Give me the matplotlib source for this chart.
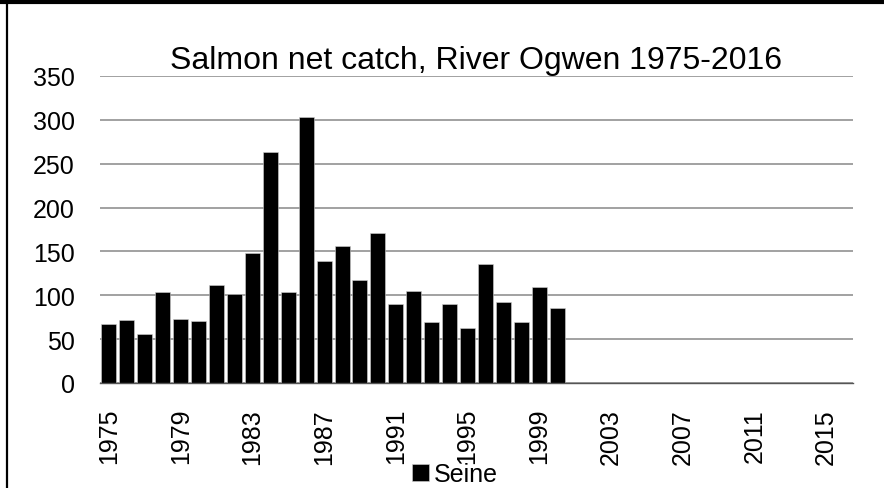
import numpy as np
import matplotlib
matplotlib.use("Agg")
import matplotlib.pyplot as plt
from matplotlib.lines import Line2D

plt.rcParams['font.family'] = ['Liberation Sans', 'DejaVu Sans']

# data
years = list(range(1975, 2017))
seine = [67, 72, 56, 104, 73, 71, 112, 101, 148, 263, 104, 303, 139, 156, 117, 171,
         90, 105, 69, 90, 63, 136, 92, 70, 109, 85]
yticks = [0, 50, 100, 150, 200, 250, 300, 350]
title = "Salmon net catch, River Ogwen 1975-2016"

fig = plt.figure(figsize=(8.84, 4.89), dpi=100)
ax = fig.add_axes([100 / 884, 1 - 384 / 489, 753 / 884, 307 / 489])

x = np.arange(len(years))
ax.bar(x[:len(seine)], seine, width=0.84, color='black', edgecolor='#d0d0d0',
       linewidth=0.4, label='Seine', zorder=3)

ax.set_xlim(-0.5, len(years) - 0.5)
ax.set_ylim(0, 350)
ax.set_yticks(yticks)
ax.set_xticks(x[::4])
ax.set_xticklabels([str(y) for y in years[::4]], rotation=90)
ax.tick_params(axis='y', length=0, pad=18, labelsize=18)
ax.tick_params(axis='x', length=0, pad=18, labelsize=18)
ax.grid(axis='y', color='#9a9a9a', linewidth=1.3, zorder=0)
for s in ['top', 'right', 'left']:
    ax.spines[s].set_visible(False)
ax.spines['bottom'].set_color('#555555')
ax.spines['bottom'].set_linewidth(1.0)
ax.spines['bottom'].set_zorder(4)

ax.set_title(title, fontsize=23, pad=6)

fig.legend(loc='center', bbox_to_anchor=(455 / 884, 1 - 475 / 489), frameon=False,
           fontsize=18, handlelength=0.7, handleheight=0.7, handletextpad=0.2,
           borderpad=0)

# frame of the chart (top and left edges visible)
fig.add_artist(Line2D([0, 1], [1 - 2.5 / 489] * 2, color='black', linewidth=3))
fig.add_artist(Line2D([7 / 884] * 2, [0, 1], color='black', linewidth=1.6))

fig.savefig("out.png", dpi=100)
